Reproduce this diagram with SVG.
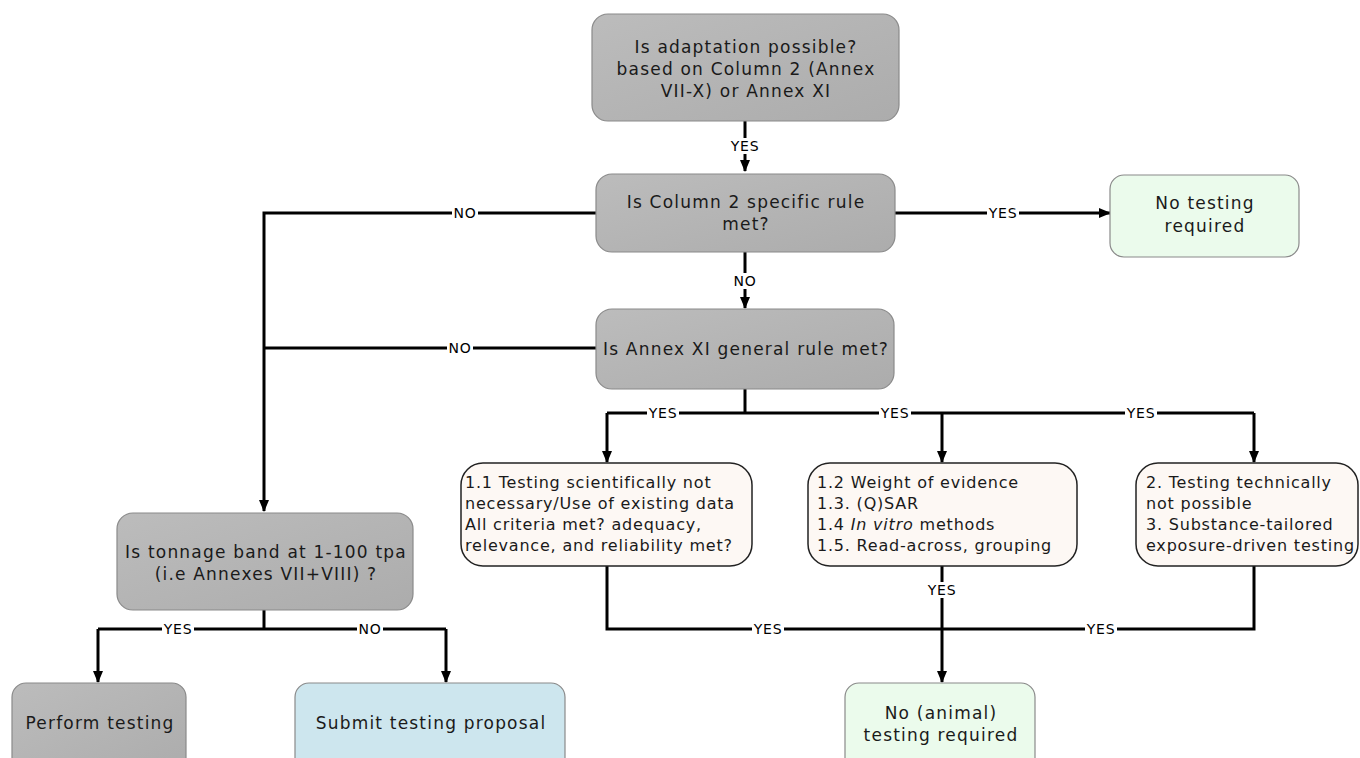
<svg xmlns="http://www.w3.org/2000/svg" width="1360" height="758" viewBox="0 0 1360 758">
<defs>
<linearGradient id="gray" x1="0" y1="0" x2="1" y2="1">
<stop offset="0" stop-color="#bcbcbc"/>
<stop offset="1" stop-color="#acacac"/>
</linearGradient>
<marker id="arr" viewBox="0 0 12 10" refX="11" refY="5" markerWidth="12" markerHeight="10" markerUnits="userSpaceOnUse" orient="auto">
<path d="M0,0 L12,5 L0,10 z" fill="#000"/>
</marker>
</defs>
<style>
.g{fill:url(#gray);stroke:#8a8a8a;stroke-width:1.2}
.c{fill:#fdf8f4;stroke:#222;stroke-width:1.5}
.gr{fill:#ebfbec;stroke:#8a8a8a;stroke-width:1.2}
.bl{fill:#cde6ee;stroke:#8a8a8a;stroke-width:1.2}
.t{font-family:"DejaVu Sans",Verdana,sans-serif;font-size:17px;letter-spacing:1.2px;fill:#1a1a1a;text-anchor:middle}
.tl{font-family:"DejaVu Sans",Verdana,sans-serif;font-size:16px;letter-spacing:0.8px;fill:#1a1a1a}
.e{fill:none;stroke:#000;stroke-width:3}
.lb{font-family:"DejaVu Sans",Verdana,sans-serif;font-size:14px;letter-spacing:0.8px;fill:#000;text-anchor:middle}
.lbg{fill:#fff}
</style>
<g id="connectors">
<path class="e" d="M745,121 V171" marker-end="url(#arr)"/>
<path class="e" d="M596,213 H264 V511" marker-end="url(#arr)"/>
<path class="e" d="M895,213 H1110" marker-end="url(#arr)"/>
<path class="e" d="M745,252 V308" marker-end="url(#arr)"/>
<path class="e" d="M596,348 H264"/>
<path class="e" d="M745,389 V413"/>
<path class="e" d="M607,413 H1254"/>
<path class="e" d="M607,413 V462" marker-end="url(#arr)"/>
<path class="e" d="M942,413 V462" marker-end="url(#arr)"/>
<path class="e" d="M1254,413 V462" marker-end="url(#arr)"/>
<path class="e" d="M607,566 V629 H1254 V566"/>
<path class="e" d="M942,566 V682" marker-end="url(#arr)"/>
<path class="e" d="M264,610 V629"/>
<path class="e" d="M98,629 H446"/>
<path class="e" d="M98,629 V682" marker-end="url(#arr)"/>
<path class="e" d="M446,629 V682" marker-end="url(#arr)"/>
<rect class="lbg" x="729" y="138" width="32" height="16"/>
<text class="lb" x="745" y="151">YES</text>
<rect class="lbg" x="452" y="205" width="26" height="16"/>
<text class="lb" x="465" y="218">NO</text>
<rect class="lbg" x="987" y="205" width="32" height="16"/>
<text class="lb" x="1003" y="218">YES</text>
<rect class="lbg" x="732" y="273" width="26" height="16"/>
<text class="lb" x="745" y="286">NO</text>
<rect class="lbg" x="447" y="340" width="26" height="16"/>
<text class="lb" x="460" y="353">NO</text>
<rect class="lbg" x="647" y="405" width="32" height="16"/>
<text class="lb" x="663" y="418">YES</text>
<rect class="lbg" x="879" y="405" width="32" height="16"/>
<text class="lb" x="895" y="418">YES</text>
<rect class="lbg" x="1125" y="405" width="32" height="16"/>
<text class="lb" x="1141" y="418">YES</text>
<rect class="lbg" x="926" y="582" width="32" height="16"/>
<text class="lb" x="942" y="595">YES</text>
<rect class="lbg" x="752" y="621" width="32" height="16"/>
<text class="lb" x="768" y="634">YES</text>
<rect class="lbg" x="1085" y="621" width="32" height="16"/>
<text class="lb" x="1101" y="634">YES</text>
<rect class="lbg" x="162" y="621" width="32" height="16"/>
<text class="lb" x="178" y="634">YES</text>
<rect class="lbg" x="357" y="621" width="26" height="16"/>
<text class="lb" x="370" y="634">NO</text>
</g>
<g id="n-adapt">
<rect class="g" x="592" y="14" width="307" height="107" rx="16"/>
<text class="t" x="746" y="53">Is adaptation possible?</text>
<text class="t" x="746" y="75">based on Column 2 (Annex</text>
<text class="t" x="746" y="97">VII-X) or Annex XI</text>
</g>
<g id="n-col2">
<rect class="g" x="596" y="174" width="299" height="78" rx="16"/>
<text class="t" x="746" y="208">Is Column 2 specific rule</text>
<text class="t" x="746" y="230">met?</text>
</g>
<g id="n-notest">
<rect class="gr" x="1110" y="175" width="189" height="82" rx="14"/>
<text class="t" x="1205" y="209">No testing</text>
<text class="t" x="1205" y="232">required</text>
</g>
<g id="n-annex11">
<rect class="g" x="596" y="309" width="298" height="80" rx="16"/>
<text class="t" x="746" y="355">Is Annex XI general rule met?</text>
</g>
<g id="n-11">
<rect class="c" x="461" y="463" width="291" height="103" rx="22"/>
<text class="tl" x="465" y="488">1.1 Testing scientifically not</text>
<text class="tl" x="465" y="509">necessary/Use of existing data</text>
<text class="tl" x="465" y="530">All criteria met? adequacy,</text>
<text class="tl" x="465" y="551">relevance, and reliability met?</text>
</g>
<g id="n-12">
<rect class="c" x="808" y="463" width="269" height="103" rx="22"/>
<text class="tl" x="817" y="488">1.2 Weight of evidence</text>
<text class="tl" x="817" y="509">1.3.  (Q)SAR</text>
<text class="tl" x="817" y="530">1.4 <tspan font-style="italic">In vitro</tspan> methods</text>
<text class="tl" x="817" y="551">1.5. Read-across, grouping</text>
</g>
<g id="n-23">
<rect class="c" x="1136" y="463" width="222" height="103" rx="22"/>
<text class="tl" x="1146" y="488">2. Testing technically</text>
<text class="tl" x="1146" y="509">not possible</text>
<text class="tl" x="1146" y="530">3. Substance-tailored</text>
<text class="tl" x="1146" y="551">exposure-driven testing</text>
</g>
<g id="n-tonnage">
<rect class="g" x="117" y="513" width="296" height="97" rx="16"/>
<text class="t" x="266" y="558">Is tonnage band at 1-100 tpa</text>
<text class="t" x="266" y="580">(i.e Annexes VII+VIII) ?</text>
</g>
<g id="n-perform">
<rect class="g" x="12" y="683" width="174" height="90" rx="14"/>
<text class="t" x="100" y="729">Perform testing</text>
</g>
<g id="n-submit">
<rect class="bl" x="295" y="683" width="270" height="90" rx="14"/>
<text class="t" x="431" y="729">Submit testing proposal</text>
</g>
<g id="n-noanimal">
<rect class="gr" x="845" y="683" width="190" height="90" rx="14"/>
<text class="t" x="941" y="719">No (animal)</text>
<text class="t" x="941" y="741">testing required</text>
</g>
</svg>
